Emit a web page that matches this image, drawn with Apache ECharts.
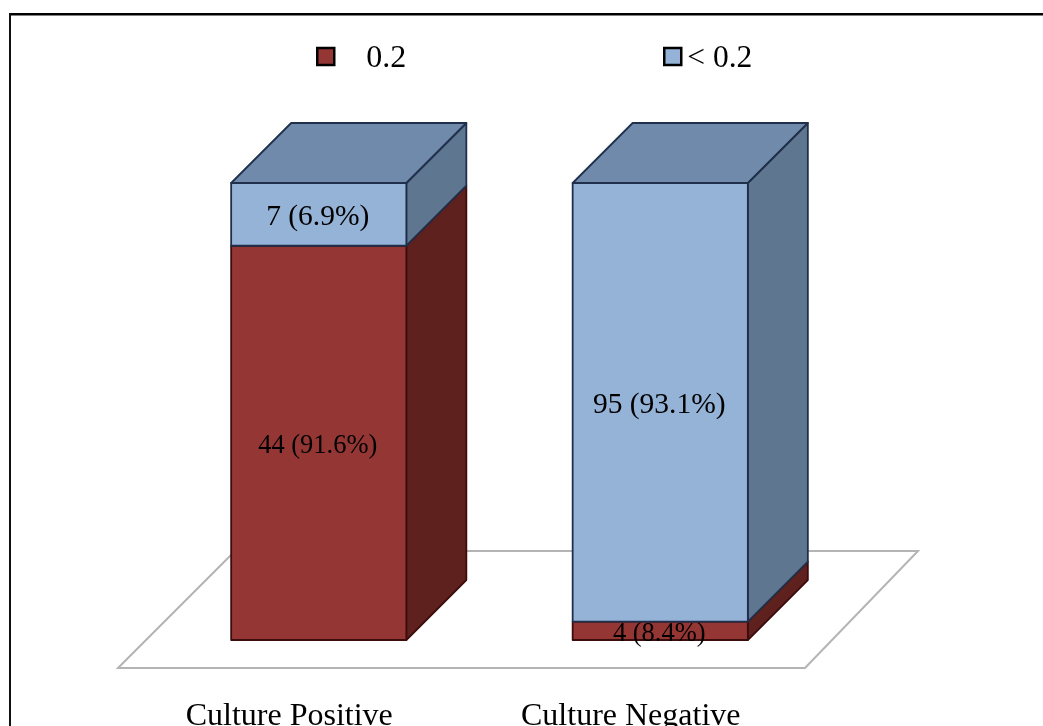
<!DOCTYPE html>
<html>
<head>
<meta charset="utf-8">
<title>Culture result chart</title>
<style>
html,body{margin:0;padding:0;background:#fff;}
#main{width:1043px;height:726px;}
</style>
<script src="https://cdn.jsdelivr.net/npm/echarts@6/dist/echarts.min.js"></script>
</head>
<body>
<div id="main"></div>
<script>
// values
var categories = ['Culture Positive', 'Culture Negative'];
var redCounts = [44, 4];
var blueCounts = [7, 95];
var redPercents = ['91.6', '8.4'];
var bluePercents = ['6.9', '93.1'];

var fontName = '"Liberation Serif", serif';
var depth = 60;

// bars are drawn 100% stacked, so the height is each count's share of its column
function share(counts, others, i) {
    return counts[i] / (counts[i] + others[i]) * 100;
}
var redData = [];
var blueData = [];
for (var i = 0; i < categories.length; i++) {
    var redShare = share(redCounts, blueCounts, i);
    redData.push([i, 0, redShare]);
    blueData.push([i, redShare, 100]);
}

function poly(points, fill, edge) {
    return {
        type: 'polygon',
        shape: {points: points},
        style: {fill: fill, stroke: edge, lineWidth: 1.8, lineJoin: 'round'}
    };
}

function barRenderer(colors, hasTop, fontSize, counts, percents) {
    return function (params, api) {
        var base = api.coord([api.value(0), api.value(1)]);
        var top = api.coord([api.value(0), api.value(2)]);
        var w = api.size([1, 0])[0] * 0.513;
        var l = base[0] - w / 2;
        var r = base[0] + w / 2;
        var children = [
            poly([[r, base[1]], [r + depth, base[1] - depth], [r + depth, top[1] - depth], [r, top[1]]], colors.side, colors.edge),
            poly([[l, base[1]], [r, base[1]], [r, top[1]], [l, top[1]]], colors.front, colors.edge)
        ];
        if (hasTop) {
            children.push(poly([[l, top[1]], [r, top[1]], [r + depth, top[1] - depth], [l + depth, top[1] - depth]], colors.top, colors.edge));
        }
        children.push({
            type: 'text',
            style: {
                text: counts[params.dataIndex] + ' (' + percents[params.dataIndex] + '%)',
                x: base[0] - 1,
                y: (base[1] + top[1]) / 2 + 3,
                align: 'center',
                verticalAlign: 'middle',
                fill: '#000',
                font: fontSize + 'px ' + fontName
            }
        });
        return {type: 'group', children: children};
    };
}

// the grey floor plate under the bars
function renderFloor(params, api) {
    var g = params.coordSys;
    var bottom = g.y + g.height;
    var right = g.x + g.width;
    return {
        type: 'polygon',
        shape: {points: [[g.x - 30, bottom + 28], [right - 26, bottom + 28], [right + 87, bottom - 89], [g.x + 87, bottom - 89]]},
        style: {fill: '#fff', stroke: '#b4b4b4', lineWidth: 2}
    };
}

var redColors = {front: '#943634', side: '#5f211e', edge: '#3d0d0d'};
var blueColors = {front: '#95b3d7', side: '#5f7690', top: '#6f8aab', edge: '#1f2f4c'};

function legendText(name) {
    return '{t|' + name + '}';
}

var myChart = echarts.init(document.getElementById('main'), null, {renderer: 'canvas'});
var option = {
    animation: false,
    backgroundColor: '#fff',
    textStyle: {fontFamily: fontName},
    grid: {left: 148, top: 183, width: 683, height: 457, containLabel: false, outerBoundsMode: 'none'},
    legend: [
        {
            data: ['0.2'],
            left: 311,
            top: 38,
            icon: 'rect',
            itemWidth: 17,
            itemHeight: 17,
            itemStyle: {borderColor: '#000', borderWidth: 2.5},
            formatter: legendText,
            textStyle: {rich: {t: {fontSize: 32, fontFamily: fontName, color: '#000', padding: [5, 0, 0, 27]}}}
        },
        {
            data: ['< 0.2'],
            left: 658,
            top: 38,
            icon: 'rect',
            itemWidth: 17,
            itemHeight: 17,
            itemStyle: {borderColor: '#000', borderWidth: 2.5},
            formatter: legendText,
            textStyle: {rich: {t: {fontSize: 31.5, fontFamily: fontName, color: '#000', padding: [5, 0, 0, 1]}}}
        }
    ],
    xAxis: {
        type: 'category',
        data: categories,
        axisLine: {show: false},
        axisTick: {show: false},
        axisLabel: {
            color: '#000',
            fontSize: 32,
            fontFamily: fontName,
            margin: 61,
            padding: [0, 59, 0, 0]
        }
    },
    yAxis: {type: 'value', min: 0, max: 100, show: false},
    series: [
        {
            type: 'custom',
            silent: true,
            data: [[0]],
            renderItem: renderFloor,
            z: 1
        },
        {
            name: '0.2',
            type: 'custom',
            data: redData,
            itemStyle: {color: redColors.front},
            encode: {x: 0, y: [1, 2]},
            renderItem: barRenderer(redColors, false, 26.5, redCounts, redPercents),
            z: 2
        },
        {
            name: '< 0.2',
            type: 'custom',
            data: blueData,
            itemStyle: {color: blueColors.front},
            encode: {x: 0, y: [1, 2]},
            renderItem: barRenderer(blueColors, true, 29.5, blueCounts, bluePercents),
            z: 3
        }
    ],
    // page frame: only a top and a left rule in the source
    graphic: [
        {type: 'rect', shape: {x: 9, y: 13, width: 1034, height: 2.5}, style: {fill: '#000'}},
        {type: 'rect', shape: {x: 9, y: 13, width: 2, height: 713}, style: {fill: '#111'}}
    ]
};
myChart.setOption(option);
</script>
</body>
</html>
